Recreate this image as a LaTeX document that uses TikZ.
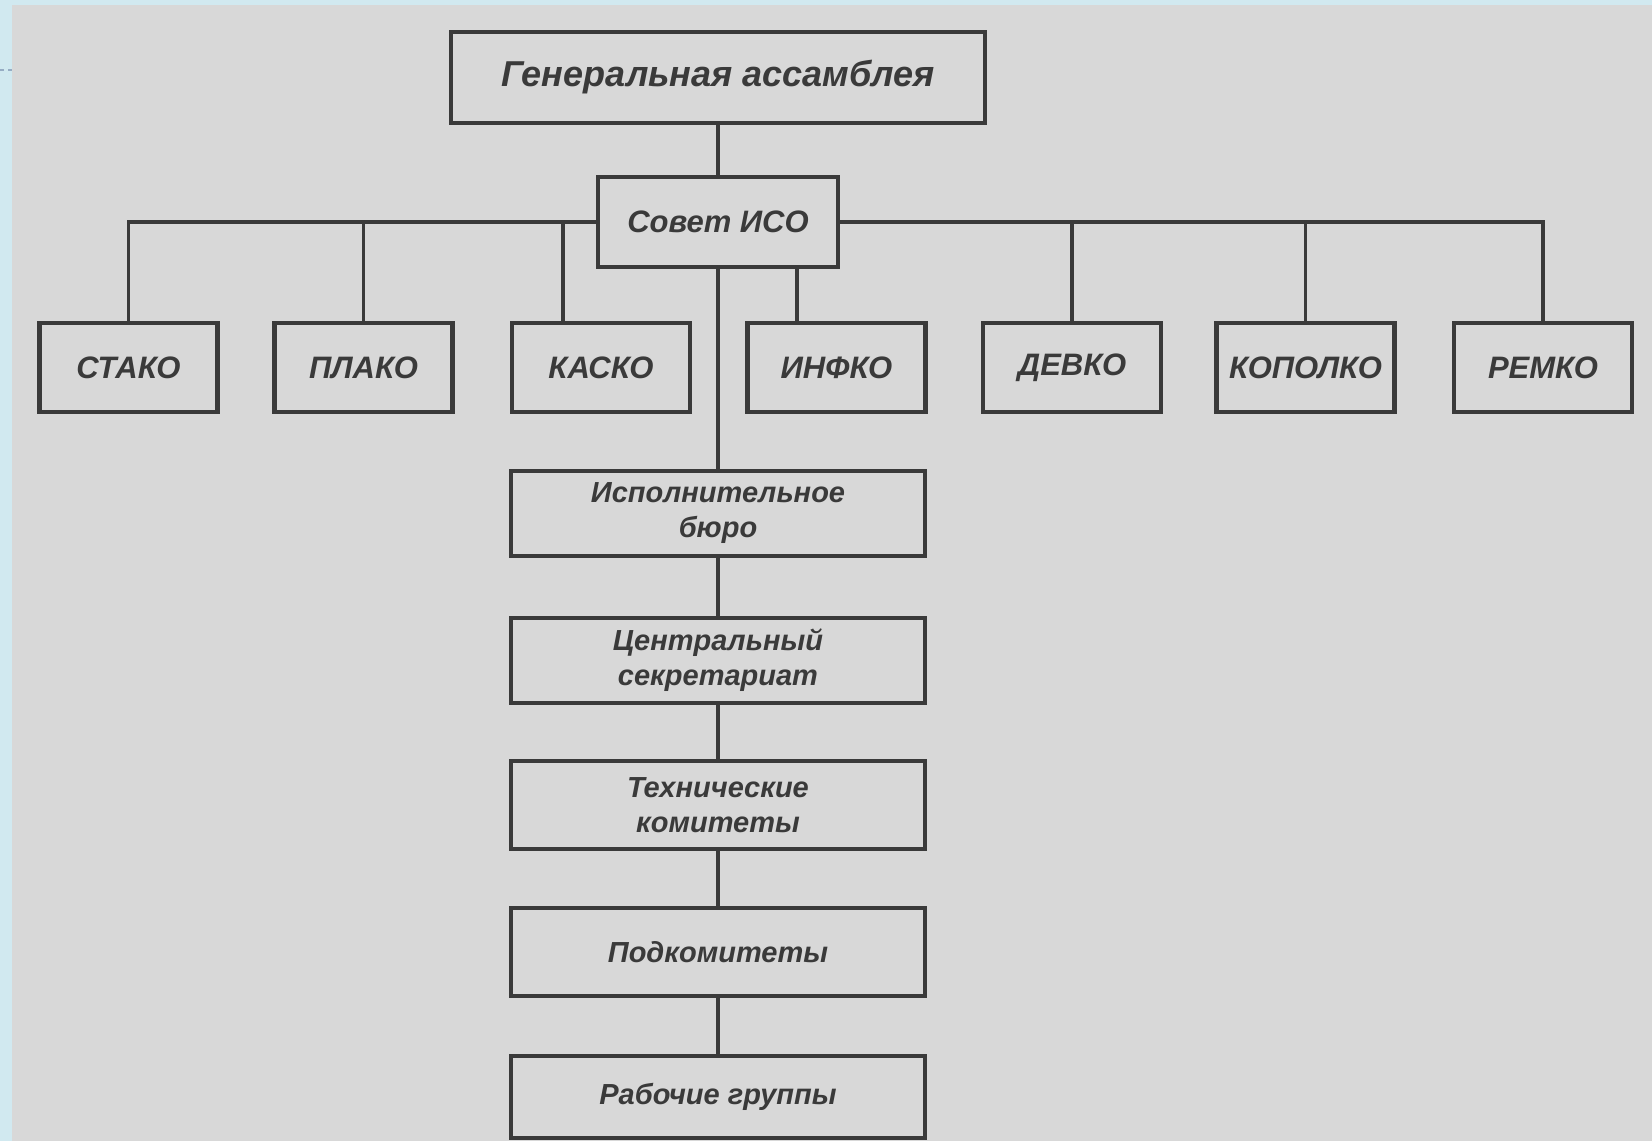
\documentclass[tikz,border=0pt]{standalone}
\usepackage{fontspec}
\setmainfont{Liberation Sans}
\definecolor{slideblue}{RGB}{209,233,240}
\definecolor{paper}{RGB}{216,216,216}
\definecolor{ink}{RGB}{58,58,58}
\definecolor{dashblue}{RGB}{150,172,195}
\begin{document}
\begin{tikzpicture}[x=1pt,y=-1pt,
  box/.style={draw=ink,line width=4.2pt,inner sep=0pt,align=center,text=ink,
    font=\fontsize{31}{36}\selectfont\bfseries\itshape},
  topbox/.style={box,minimum width=534pt,minimum height=91pt,font=\fontsize{36}{42}\selectfont\bfseries\itshape},
  midbox/.style={box,minimum width=240pt,minimum height=90pt},
  rowbox/.style={box,minimum width=178pt,minimum height=89pt},
  chainbox/.style={box,minimum width=414pt,font=\fontsize{29}{35}\selectfont\bfseries\itshape},
  link/.style={draw=ink,line width=3.6pt}]
\useasboundingbox (0,0) rectangle (1652,1141);
\fill[slideblue] (0,0) rectangle (1652,1141);
\fill[paper] (12,5) rectangle (1652,1141);
\draw[dashblue,line width=2pt,dash pattern=on 4pt off 4pt] (0,70) -- (12,70);

\node[topbox] (gen) at (718,77.5) {Генеральная ассамблея};
\node[midbox] (sovet) at (718,222) {Совет ИСО};

\node[rowbox] (stako) at (128.5,367.5) {СТАКО};
\node[rowbox] (plako) at (363.5,367.5) {ПЛАКО};
\node[rowbox] (kasko) at (601,367.5) {КАСКО};
\node[rowbox] (infko) at (836.5,367.5) {ИНФКО};
\node[rowbox] (devko) at (1072,367.5) {ДЕВКО};
\node[rowbox] (kopolko) at (1305.5,367.5) {КОПОЛКО};
\node[rowbox] (remko) at (1543,367.5) {РЕМКО};

\node[chainbox,minimum height=85pt] (isp) at (718,513.5) {Исполнительное\\бюро};
\node[chainbox,minimum height=85pt] (sekr) at (718,660.5) {Центральный\\секретариат};
\node[chainbox,minimum height=88pt] (tech) at (718,805) {Технические\\комитеты};
\node[chainbox,minimum height=88pt] (podk) at (718,952) {Подкомитеты};
\node[chainbox,minimum height=82pt] (rab) at (718,1097) {Рабочие группы};

\coordinate (kaskoTop) at ([xshift=-38pt]kasko.north);
\coordinate (infkoTop) at ([xshift=-39.5pt]infko.north);

\draw[link] (gen) -- (sovet);
\draw[link] (sovet) -- (isp);
\draw[link] (isp) -- (sekr);
\draw[link] (sekr) -- (tech);
\draw[link] (tech) -- (podk);
\draw[link] (podk) -- (rab);

\draw[link] (sovet.west) -| (stako.north);
\draw[link] (sovet.west) -| (plako.north);
\draw[link] (sovet.west) -| (kaskoTop);
\draw[link] (infkoTop) -- (infkoTop |- sovet.south);
\draw[link] (sovet.east) -| (devko.north);
\draw[link] (sovet.east) -| (kopolko.north);
\draw[link] (sovet.east) -| (remko.north);
\end{tikzpicture}
\end{document}
